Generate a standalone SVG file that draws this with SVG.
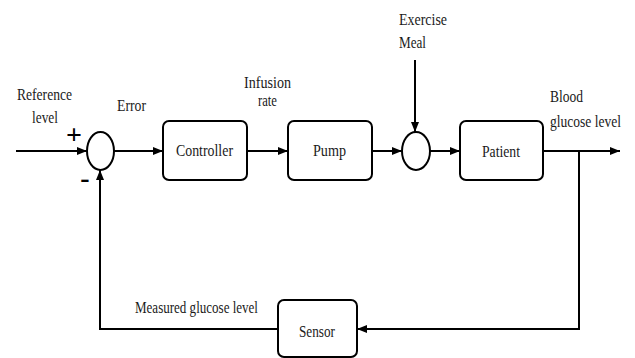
<svg xmlns="http://www.w3.org/2000/svg" width="635" height="358" viewBox="0 0 635 358">
<style>
.box{fill:#fff;stroke:#000;stroke-width:2}
.sum{fill:#fff;stroke:#000;stroke-width:2}
.ln{fill:none;stroke:#000;stroke-width:2}
.t{font-family:'Liberation Serif','Times New Roman',Tinos,serif;font-size:16px;fill:#1a1a1a}
.sign{font-family:'Liberation Serif','Times New Roman',serif;font-weight:bold;font-size:28px;text-anchor:middle;fill:#000}
</style>
<defs>
<marker id="arr" viewBox="0 0 10 10" refX="10" refY="5" markerWidth="10" markerHeight="10" markerUnits="userSpaceOnUse" orient="auto">
<path d="M0,1 L10,5 L0,9 Z" fill="#000"/>
</marker>
</defs>
<rect width="635" height="358" fill="#fff"/>
<g id="connectors">
<line class="ln" x1="16" y1="151" x2="87" y2="151" marker-end="url(#arr)"/>
<line class="ln" x1="114" y1="151" x2="163" y2="151" marker-end="url(#arr)"/>
<line class="ln" x1="247" y1="151" x2="288" y2="151" marker-end="url(#arr)"/>
<line class="ln" x1="372" y1="151" x2="402" y2="151" marker-end="url(#arr)"/>
<line class="ln" x1="430" y1="151" x2="460" y2="151" marker-end="url(#arr)"/>
<line class="ln" x1="543" y1="151" x2="620" y2="151" marker-end="url(#arr)"/>
<line class="ln" x1="415" y1="60" x2="415" y2="132" marker-end="url(#arr)"/>
<polyline class="ln" points="579,151 579,329 357,329" marker-end="url(#arr)"/>
<polyline class="ln" points="278,329 100,329 100,170" marker-end="url(#arr)"/>
</g>
<g id="sum1"><ellipse class="sum" cx="100.5" cy="151" rx="13.5" ry="19"/></g>
<g id="sum2"><ellipse class="sum" cx="416" cy="151" rx="14" ry="19"/></g>
<g id="controller"><rect class="box" x="163" y="121" width="84" height="59" rx="6"/><text class="t" x="176" y="156" textLength="57" lengthAdjust="spacingAndGlyphs">Controller</text></g>
<g id="pump"><rect class="box" x="288" y="121" width="84" height="59" rx="6"/><text class="t" x="313" y="156" textLength="33" lengthAdjust="spacingAndGlyphs">Pump</text></g>
<g id="patient"><rect class="box" x="460" y="121" width="83" height="59" rx="6"/><text class="t" x="482" y="157" textLength="38" lengthAdjust="spacingAndGlyphs">Patient</text></g>
<g id="sensor"><rect class="box" x="278" y="300" width="79" height="57" rx="6"/><text class="t" x="299" y="337" textLength="36" lengthAdjust="spacingAndGlyphs">Sensor</text></g>
<g id="labels">
<text class="t" x="17" y="100" textLength="55" lengthAdjust="spacingAndGlyphs">Reference</text>
<text class="t" x="32" y="123" textLength="26" lengthAdjust="spacingAndGlyphs">level</text>
<text class="sign" x="74" y="144">+</text>
<text class="sign" x="85" y="187">-</text>
<text class="t" x="117" y="111" textLength="29" lengthAdjust="spacingAndGlyphs">Error</text>
<text class="t" x="244" y="88" textLength="47" lengthAdjust="spacingAndGlyphs">Infusion</text>
<text class="t" x="258" y="106" textLength="19" lengthAdjust="spacingAndGlyphs">rate</text>
<text class="t" x="399" y="25" textLength="48" lengthAdjust="spacingAndGlyphs">Exercise</text>
<text class="t" x="399" y="48" textLength="27" lengthAdjust="spacingAndGlyphs">Meal</text>
<text class="t" x="550" y="102" textLength="33" lengthAdjust="spacingAndGlyphs">Blood</text>
<text class="t" x="550" y="127" textLength="71" lengthAdjust="spacingAndGlyphs">glucose level</text>
<text class="t" x="135" y="313" textLength="123" lengthAdjust="spacingAndGlyphs">Measured glucose level</text>
</g>
</svg>
